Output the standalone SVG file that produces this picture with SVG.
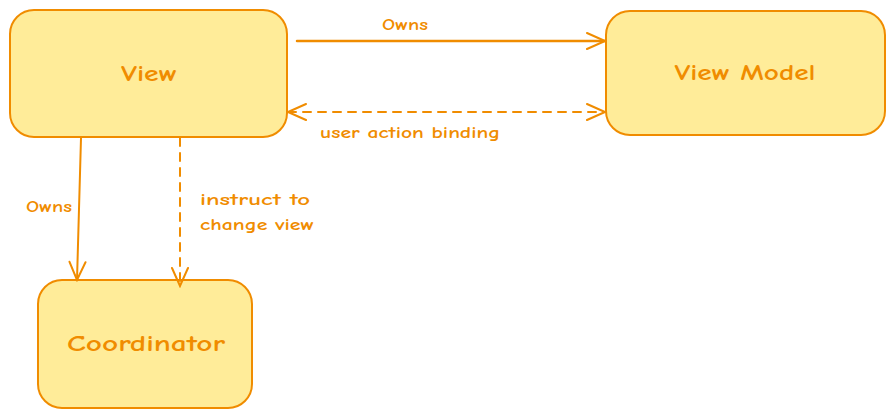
<svg xmlns="http://www.w3.org/2000/svg" width="894" height="419" viewBox="0 0 894 419">
<defs>
<style>
.box{fill:#ffec99;stroke:#f08c00;stroke-width:2}
.ln{fill:none;stroke:#f08c00;stroke-width:2;stroke-linecap:round}
.dash{stroke-dasharray:8 7}
.t{font-family:"Comic Neue","Liberation Sans",sans-serif;fill:#f08c00}
.nt{font-size:22px;font-weight:bold;text-anchor:middle}
.lt{font-size:16px;font-weight:bold}
</style>
<marker id="ah" viewBox="0 0 22 22" refX="20" refY="11" markerWidth="22" markerHeight="22" markerUnits="userSpaceOnUse" orient="auto-start-reverse">
<path d="M2,3 L20,11 L2,19" fill="none" stroke="#f08c00" stroke-width="2" stroke-linecap="round"/>
</marker>
</defs>
<rect width="894" height="419" fill="#ffffff"/>
<g id="view">
<rect class="box" x="10" y="10" width="277" height="127" rx="24"/>
<text class="t nt" x="149" y="81" textLength="56" lengthAdjust="spacingAndGlyphs">View</text>
</g>
<g id="viewmodel">
<rect class="box" x="606" y="11" width="279" height="124" rx="24"/>
<text class="t nt" x="745" y="80" textLength="141" lengthAdjust="spacingAndGlyphs">View Model</text>
</g>
<g id="coordinator">
<rect class="box" x="38" y="280" width="214" height="128" rx="24"/>
<text class="t nt" x="146" y="351" textLength="158" lengthAdjust="spacingAndGlyphs">Coordinator</text>
</g>
<g id="connectors">
<path class="ln" d="M297,41 L605,41" marker-end="url(#ah)" style="stroke-width:2.5"/>
<path class="ln dash" d="M288,112 L605,112" marker-start="url(#ah)" marker-end="url(#ah)"/>
<path class="ln" d="M81,138 L77,280" marker-end="url(#ah)"/>
<path class="ln dash" d="M180,138 L180,286" marker-end="url(#ah)"/>
<text class="t lt" x="382" y="30" textLength="46" lengthAdjust="spacingAndGlyphs">Owns</text>
<text class="t lt" x="320" y="138" textLength="180" lengthAdjust="spacingAndGlyphs">user action binding</text>
<text class="t lt" x="26" y="212" textLength="46" lengthAdjust="spacingAndGlyphs">Owns</text>
<text class="t lt" x="200" y="205" textLength="110" lengthAdjust="spacingAndGlyphs">instruct to</text>
<text class="t lt" x="200" y="230" textLength="114" lengthAdjust="spacingAndGlyphs">change view</text>
</g>
</svg>
